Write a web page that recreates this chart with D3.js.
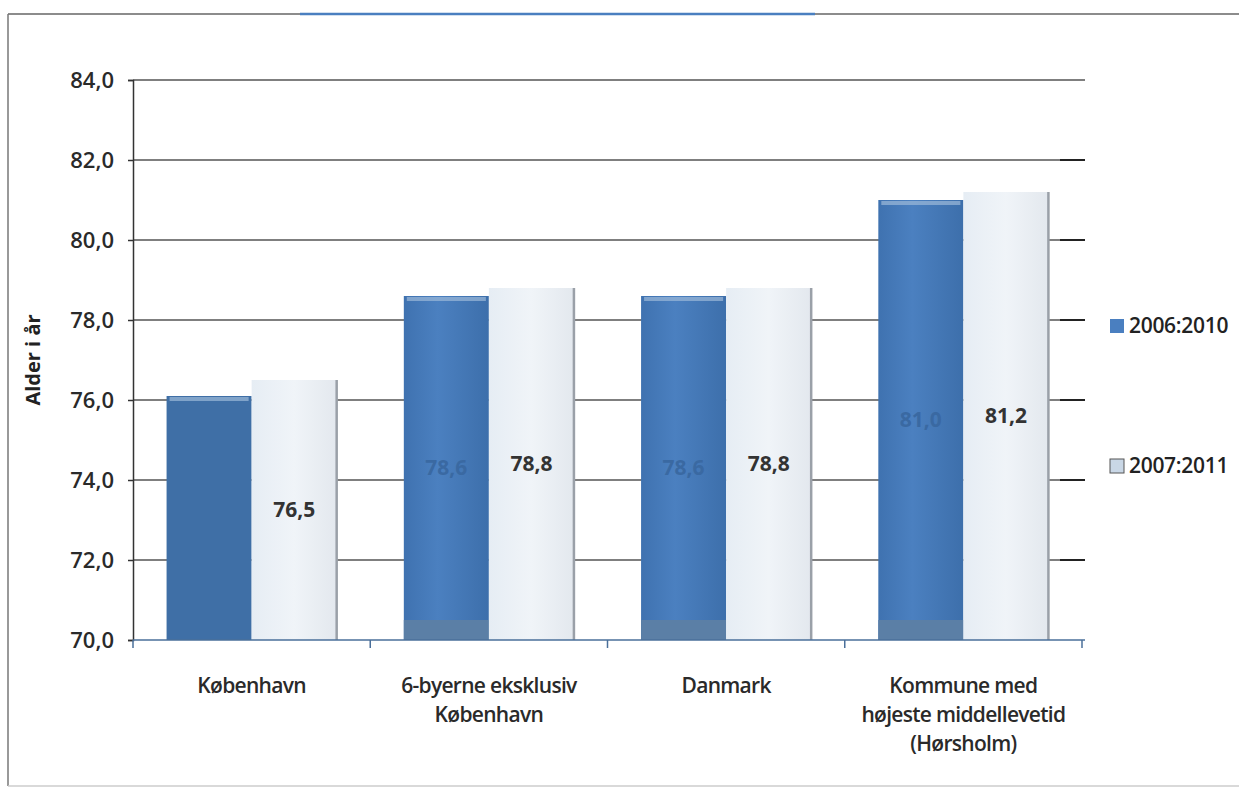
<!DOCTYPE html>
<html>
<head>
<meta charset="utf-8">
<style>
  body { margin: 0; background: #fff; }
  svg { display: block; }
  .tick text { font-family: "Open Sans", "Liberation Sans", sans-serif; font-weight: 600; fill: #2a2a2a; }
</style>
<script src="https://cdnjs.cloudflare.com/ajax/libs/d3/7.8.5/d3.min.js"></script>
</head>
<body>
<script>
  const width = 1239;
  const height = 793;

  // data
  const categories = [
    ["København"],
    ["6-byerne eksklusiv", "København"],
    ["Danmark"],
    ["Kommune med", "højeste middellevetid", "(Hørsholm)"]
  ];
  const seriesNames = ["2006:2010", "2007:2011"];
  const values2006 = [76.1, 78.6, 78.6, 81.0];
  const values2007 = [76.5, 78.8, 78.8, 81.2];
  const yTicks = [70, 72, 74, 76, 78, 80, 82, 84];

  const svg = d3.select("body").append("svg")
    .attr("width", width).attr("height", height);

  const defs = svg.append("defs");
  const gBlue = defs.append("linearGradient").attr("id", "gBlue");
  gBlue.append("stop").attr("offset", "0%").attr("stop-color", "#3f72b0");
  gBlue.append("stop").attr("offset", "40%").attr("stop-color", "#4b80c0");
  gBlue.append("stop").attr("offset", "100%").attr("stop-color", "#3d6fab");
  const gLight = defs.append("linearGradient").attr("id", "gLight");
  gLight.append("stop").attr("offset", "0%").attr("stop-color", "#e6edf4");
  gLight.append("stop").attr("offset", "50%").attr("stop-color", "#f0f4f8");
  gLight.append("stop").attr("offset", "100%").attr("stop-color", "#e3e8ee");

  // outer frame of the scanned chart
  svg.append("line").attr("x1", 8).attr("x2", width).attr("y1", 14).attr("y2", 14)
    .style("stroke", "#666").style("stroke-width", 1.5);
  svg.append("line").attr("x1", 300).attr("x2", 815).attr("y1", 14).attr("y2", 14)
    .style("stroke", "#4a7fc0").style("stroke-width", 2.5);
  svg.append("line").attr("x1", 8).attr("x2", 8).attr("y1", 14).attr("y2", 786)
    .style("stroke", "#777").style("stroke-width", 1.5);
  svg.append("line").attr("x1", 8).attr("x2", width).attr("y1", 786).attr("y2", 786)
    .style("stroke", "#ccc").style("stroke-width", 1.5);

  const y = d3.scaleLinear().domain([70, 84]).range([640, 80]);
  const x = d3.scaleBand()
    .domain(d3.range(categories.length))
    .range([133, 1082])
    .paddingInner(0.283)
    .paddingOuter(0.1415);
  const xs = d3.scaleBand().domain([0, 1]).range([0, x.bandwidth()]);

  // gridlines
  svg.append("g")
    .selectAll("line")
    .data(yTicks.slice(1))
    .enter().append("line")
    .attr("x1", 133).attr("x2", 1085)
    .attr("y1", d => y(d)).attr("y2", d => y(d))
    .style("stroke", "#555").style("stroke-width", 1.5);

  // y axis
  const yAxis = svg.append("g")
    .attr("transform", "translate(133,0)")
    .call(d3.axisLeft(y).tickValues(yTicks).tickSize(5).tickPadding(14)
      .tickFormat(d => d3.format(".1f")(d).replace(".", ",")));
  yAxis.select(".domain").style("stroke", "#333").style("stroke-width", 1.5);
  yAxis.selectAll(".tick line").style("stroke", "#333").style("stroke-width", 1.5);
  yAxis.selectAll(".tick text").style("font-size", "22px");

  // right-side tick marks
  svg.append("g")
    .selectAll("line")
    .data(yTicks.slice(1, -1))
    .enter().append("line")
    .attr("x1", 1060).attr("x2", 1085)
    .attr("y1", d => y(d)).attr("y2", d => y(d))
    .style("stroke", "#222").style("stroke-width", 2);

  // bars
  const groups = svg.append("g").selectAll("g")
    .data(categories.map((c, i) => ({ i, a: values2006[i], b: values2007[i] })))
    .enter().append("g")
    .attr("transform", d => `translate(${x(d.i)},0)`);

  groups.append("rect")
    .attr("x", xs(0)).attr("width", xs.bandwidth())
    .attr("y", d => y(d.a)).attr("height", d => y(70) - y(d.a))
    .style("fill", d => d.i === 0 ? "#3f6fa6" : "url(#gBlue)");
  groups.append("rect")
    .attr("x", xs(0) + 3).attr("width", xs.bandwidth() - 6)
    .attr("y", d => y(d.a) + 1).attr("height", 4)
    .style("fill", "#9db9d9").style("opacity", 0.7);
  groups.filter(d => d.i > 0).append("rect")
    .attr("x", xs(0)).attr("width", xs.bandwidth())
    .attr("y", y(70.5)).attr("height", y(70) - y(70.5))
    .style("fill", "#5b7fa6");

  groups.append("rect")
    .attr("x", xs(1)).attr("width", xs.bandwidth())
    .attr("y", d => y(d.b)).attr("height", d => y(70) - y(d.b))
    .style("fill", "url(#gLight)");
  groups.append("line")
    .attr("x1", xs(1) + xs.bandwidth()).attr("x2", xs(1) + xs.bandwidth())
    .attr("y1", d => y(d.b)).attr("y2", y(70))
    .style("stroke", "#9aa0a8").style("stroke-width", 2.5);

  // x axis line and category ticks
  svg.append("line").attr("x1", 133).attr("x2", 1085).attr("y1", y(70)).attr("y2", y(70))
    .style("stroke", "#4a6f9a").style("stroke-width", 1.5);
  svg.append("g").selectAll("line")
    .data(d3.range(categories.length + 1))
    .enter().append("line")
    .attr("x1", d => 133 + d * x.step()).attr("x2", d => 133 + d * x.step())
    .attr("y1", y(70)).attr("y2", y(70) + 8)
    .style("stroke", "#4a6f9a").style("stroke-width", 1.5);

  // data labels
  groups.append("text")
    .attr("x", xs(0) + xs.bandwidth() / 2)
    .attr("y", d => y((d.a + 70) / 2))
    .attr("dy", "0.35em").attr("text-anchor", "middle")
    .style("font-family", "'Open Sans', sans-serif").style("font-weight", 700)
    .style("font-size", "21px")
    .style("fill", d => d.i === 0 ? "#3f6fa6" : "#3a69a2")
    .text(d => d3.format(".1f")(d.a).replace(".", ","));
  groups.append("text")
    .attr("x", xs(1) + xs.bandwidth() / 2)
    .attr("y", d => y((d.b + 70) / 2))
    .attr("dy", "0.35em").attr("text-anchor", "middle")
    .style("font-family", "'Open Sans', sans-serif").style("font-weight", 700)
    .style("font-size", "21px").style("fill", "#333")
    .text(d => d3.format(".1f")(d.b).replace(".", ","));

  // category labels
  const catText = svg.append("g").selectAll("text")
    .data(categories)
    .enter().append("text")
    .attr("x", (d, i) => x(i) + x.bandwidth() / 2)
    .attr("y", 693)
    .attr("text-anchor", "middle")
    .style("font-family", "'Open Sans', sans-serif").style("font-weight", 600)
    .style("font-size", "21px").style("fill", "#2a2a2a").style("letter-spacing", "-0.7px");
  catText.selectAll("tspan")
    .data(d => d)
    .enter().append("tspan")
    .attr("x", function () { return d3.select(this.parentNode).attr("x"); })
    .attr("dy", (d, i) => i === 0 ? 0 : 29)
    .text(d => d);

  // y axis title
  svg.append("text")
    .attr("transform", "translate(40,360) rotate(-90)")
    .attr("text-anchor", "middle")
    .style("font-family", "'Open Sans', sans-serif").style("font-weight", 700)
    .style("font-size", "20px").style("fill", "#222")
    .text("Alder i år");

  // legend
  const legend = svg.append("g").selectAll("g")
    .data(seriesNames)
    .enter().append("g")
    .attr("transform", (d, i) => `translate(1110,${i === 0 ? 326 : 466})`);
  legend.append("rect")
    .attr("x", 0).attr("y", -7).attr("width", 14).attr("height", 14)
    .style("fill", (d, i) => i === 0 ? "#4a7fc0" : "#c9d7e6")
    .style("stroke", (d, i) => i === 0 ? "none" : "#555");
  legend.append("text")
    .attr("x", 19).attr("dy", "0.35em")
    .style("font-family", "'Open Sans', sans-serif").style("font-weight", 600)
    .style("font-size", "21px").style("fill", "#222")
    .style("letter-spacing", "-0.3px")
    .text(d => d);
</script>
</body>
</html>
